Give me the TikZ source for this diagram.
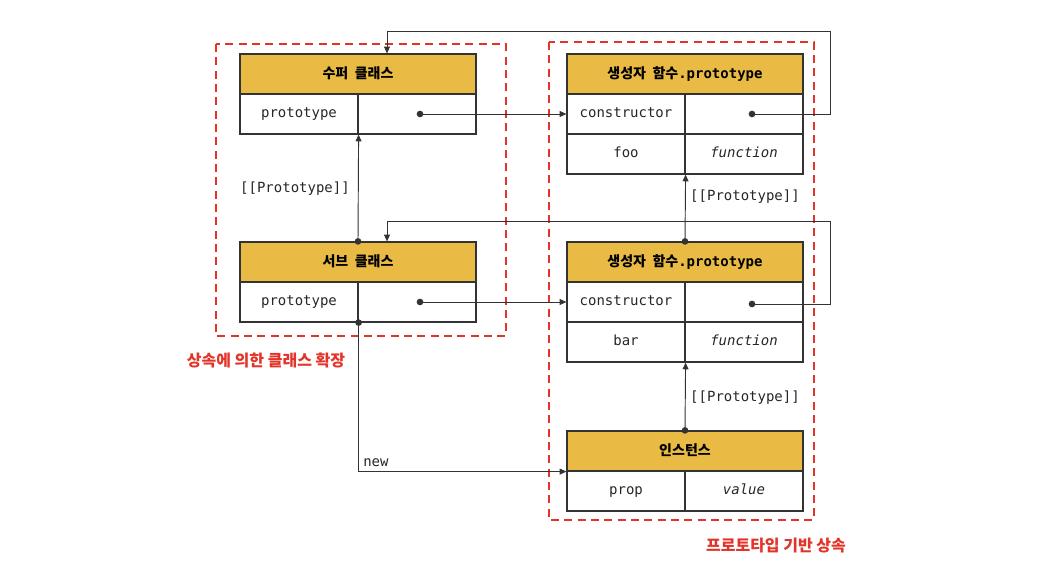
\documentclass[tikz,border=0pt]{standalone}
\usepackage{fontspec}
\setmonofont{DejaVu Sans Mono}
\newfontfamily\krfont{Noto Sans CJK KR}
\usetikzlibrary{arrows.meta,calc}
\definecolor{hdr}{HTML}{E9BB44}
\definecolor{redd}{HTML}{E3342A}
\definecolor{ln}{HTML}{333333}
\begin{document}
\begin{tikzpicture}[x=0.75pt,y=-0.75pt,
  cell/.style={draw=ln, line width=0.9pt, inner sep=0pt, minimum height=30pt, minimum width=88.5pt,
    text height=7.2pt, text depth=1.2pt,
    font=\ttfamily\fontsize{10.5}{12}\selectfont, text=black!85},
  icell/.style={cell, font=\ttfamily\itshape\fontsize{10.5}{12}\selectfont},
  hd/.style={cell, fill=hdr, minimum width=177pt, text height=8pt, text depth=1.5pt,
    font=\krfont\bfseries\fontsize{10.5}{12}\selectfont, text=black},
  dot/.style={circle, fill=ln, inner sep=0pt, minimum size=5pt},
  conn/.style={draw=ln, line width=0.7pt, -{Triangle[length=5pt,width=4.4pt]}},
  lbl/.style={font=\ttfamily\fontsize{10.5}{12}\selectfont, text=black!85, inner sep=0pt},
  redbox/.style={draw=redd, line width=1.5pt, dash pattern=on 6pt off 4pt},
  redlbl/.style={font=\krfont\bfseries\fontsize{12}{14}\selectfont, text=redd, inner sep=0pt}]
\useasboundingbox (0,0) rectangle (1040,584);

% red dashed groups
\draw[redbox] (216,44) rectangle (506,336);
\draw[redbox] (549,42) rectangle (814,520);
\node[redlbl] (g1) at (266,360) {상속에 의한 클래스 확장};
\node[redlbl] (g2) at (776,546) {프로토타입 기반 상속};

% super class
\node[hd] (sh) at (358,74) {수퍼\ \ 클래스};
\node[cell] (sp) at (299,114) {prototype};
\node[cell] (sv) at (417,114) {};
% sub class
\node[hd] (bh) at (358,262) {서브\ \ 클래스};
\node[cell] (bp) at (299,302) {prototype};
\node[cell] (bv) at (417,302) {};
% constructor prototype 1
\node[hd] (c1h) at (685,74) {생성자\ \ 함수{\ttfamily\bfseries .prototype}};
\node[cell] (c1k) at (626,114) {constructor};
\node[cell] (c1v) at (744,114) {};
\node[cell] (c1f) at (626,154) {foo};
\node[icell] (c1g) at (744,154) {function};
% constructor prototype 2
\node[hd] (c2h) at (685,262) {생성자\ \ 함수{\ttfamily\bfseries .prototype}};
\node[cell] (c2k) at (626,302) {constructor};
\node[cell] (c2v) at (744,302) {};
\node[cell] (c2b) at (626,342) {bar};
\node[icell] (c2g) at (744,342) {function};
% instance
\node[hd] (ih) at (685,451) {인스턴스};
\node[cell] (ip) at (626,491) {prop};
\node[icell] (iv) at (744,491) {value};

% dots
\node[dot] (sd) at (420,114) {};
\node[dot] (bd) at (420,302) {};
\node[dot] (c1d) at (752,114) {};
\node[dot] (c2d) at (752,304) {};
\node[dot] (bt) at (bh.north) {};
\node[dot] (bb) at (bp.south east) {};
\node[dot] (c2t) at (c2h.north) {};
\node[dot] (it) at (ih.north) {};

% connectors
\draw[conn] (sd.center) -- (c1k.west);
\draw[conn] (bd.center) -- (c2k.west |- bd.center);
\draw[conn] (c1d.center) -- ++(78,0) -- ++(0,-83) -| ($(sh.north)+(29,0)$);
\draw[conn] (c2d.center) -- ++(78,0) -- ++(0,-83) -| ($(bh.north)+(29,0)$);
\draw[conn] (bt.center) -- (sp.south east);
\draw[conn] (c2t.center) -- (c1f.south east);
\draw[conn] (it.center) -- (c2b.south east);
\draw[conn] (bb.center) |- (ih.south west);

% labels
\node[lbl] (l1) at (295,189) {[[Prototype]]};
\node[lbl] (l2) at (745,197) {[[Prototype]]};
\node[lbl] (l3) at (745,398) {[[Prototype]]};
\node[lbl, anchor=south west] (l4) at (363,467) {new};
\end{tikzpicture}
\end{document}
